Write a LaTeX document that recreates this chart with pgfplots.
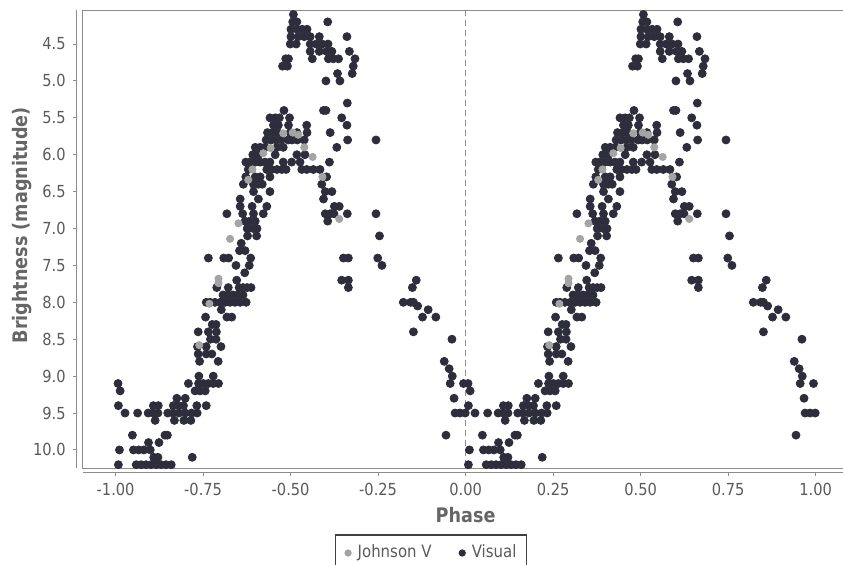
\documentclass[border=0pt]{standalone}
\usepackage{pgfplots}
\usepackage{pgfplotstable}
\pgfplotsset{compat=1.18}
\usepackage{fontspec}
\setmainfont{DejaVu Sans}[FakeStretch=0.88]
\definecolor{vis}{HTML}{2D2D3C}
\definecolor{jv}{HTML}{A4A4A4}
\definecolor{axgray}{HTML}{8C8C8C}
\definecolor{txtgray}{HTML}{5A5A5A}
\definecolor{lblgray}{HTML}{666666}

\pgfplotstableread{
p m
-0.492 4.1
-0.494 4.2
-0.482 4.2
-0.394 4.2
-0.499 4.3
-0.481 4.3
-0.467 4.3
-0.453 4.3
-0.499 4.4
-0.478 4.4
-0.461 4.4
-0.444 4.4
-0.418 4.4
-0.339 4.4
-0.501 4.5
-0.484 4.5
-0.444 4.5
-0.427 4.5
-0.410 4.5
-0.393 4.5
-0.444 4.6
-0.418 4.6
-0.397 4.6
-0.382 4.6
-0.332 4.6
-0.514 4.7
-0.506 4.7
-0.438 4.7
-0.392 4.7
-0.378 4.7
-0.363 4.7
-0.316 4.7
-0.523 4.8
-0.509 4.8
-0.321 4.8
-0.366 4.9
-0.324 4.9
-0.399 5.0
-0.359 5.0
-0.338 5.3
-0.519 5.4
-0.406 5.4
-0.399 5.4
-0.559 5.5
-0.544 5.5
-0.532 5.5
-0.503 5.5
-0.354 5.5
-0.549 5.6
-0.535 5.6
-0.506 5.6
-0.454 5.6
-0.339 5.6
-0.566 5.7
-0.551 5.7
-0.537 5.7
-0.501 5.7
-0.482 5.7
-0.453 5.7
-0.387 5.7
-0.570 5.8
-0.556 5.8
-0.541 5.8
-0.527 5.8
-0.507 5.8
-0.496 5.8
-0.481 5.8
-0.461 5.8
-0.337 5.8
-0.256 5.8
-0.601 5.9
-0.587 5.9
-0.573 5.9
-0.539 5.9
-0.521 5.9
-0.368 5.9
-0.608 6.0
-0.592 6.0
-0.544 6.0
-0.482 6.0
-0.459 6.0
-0.628 6.1
-0.616 6.1
-0.601 6.1
-0.587 6.1
-0.573 6.1
-0.559 6.1
-0.521 6.1
-0.497 6.1
-0.473 6.1
-0.389 6.1
-0.621 6.2
-0.568 6.2
-0.554 6.2
-0.539 6.2
-0.525 6.2
-0.513 6.2
-0.468 6.2
-0.454 6.2
-0.435 6.2
-0.416 6.2
-0.628 6.3
-0.601 6.3
-0.587 6.3
-0.559 6.3
-0.397 6.3
-0.635 6.4
-0.606 6.4
-0.592 6.4
-0.581 6.4
-0.411 6.4
-0.606 6.5
-0.559 6.5
-0.401 6.5
-0.382 6.5
-0.644 6.6
-0.592 6.6
-0.406 6.6
-0.644 6.7
-0.610 6.7
-0.568 6.7
-0.375 6.7
-0.361 6.7
-0.682 6.8
-0.637 6.8
-0.606 6.8
-0.578 6.8
-0.401 6.8
-0.387 6.8
-0.376 6.8
-0.338 6.8
-0.256 6.8
-0.630 6.9
-0.616 6.9
-0.601 6.9
-0.394 6.9
-0.624 7.0
-0.607 7.0
-0.596 7.0
-0.623 7.1
-0.597 7.1
-0.246 7.1
-0.641 7.2
-0.646 7.3
-0.630 7.3
-0.735 7.4
-0.691 7.4
-0.677 7.4
-0.614 7.4
-0.349 7.4
-0.335 7.4
-0.251 7.4
-0.656 7.5
-0.618 7.5
-0.239 7.5
-0.631 7.6
-0.654 7.7
-0.354 7.7
-0.335 7.7
-0.141 7.7
-0.711 7.8
-0.678 7.8
-0.647 7.8
-0.636 7.8
-0.624 7.8
-0.613 7.8
-0.335 7.8
-0.152 7.8
-0.693 7.9
-0.679 7.9
-0.664 7.9
-0.650 7.9
-0.636 7.9
-0.741 8.0
-0.730 8.0
-0.716 8.0
-0.701 8.0
-0.687 8.0
-0.673 8.0
-0.659 8.0
-0.644 8.0
-0.627 8.0
-0.178 8.0
-0.157 8.0
-0.149 8.0
-0.137 8.05
-0.698 8.1
-0.107 8.1
-0.743 8.2
-0.682 8.2
-0.668 8.2
-0.123 8.2
-0.085 8.2
-0.724 8.3
-0.713 8.3
-0.764 8.4
-0.735 8.4
-0.712 8.4
-0.149 8.4
-0.729 8.5
-0.713 8.5
-0.039 8.5
-0.766 8.6
-0.741 8.6
-0.699 8.6
-0.764 8.7
-0.741 8.7
-0.725 8.7
-0.760 8.8
-0.707 8.8
-0.061 8.8
-0.047 8.9
-0.762 9.0
-0.721 9.0
-0.038 9.0
-0.993 9.1
-0.792 9.1
-0.763 9.1
-0.749 9.1
-0.735 9.1
-0.721 9.1
-0.706 9.1
-0.044 9.1
-0.006 9.1
-0.987 9.2
-0.773 9.2
-0.759 9.2
-0.744 9.2
-0.825 9.3
-0.801 9.3
-0.033 9.3
-0.992 9.4
-0.892 9.4
-0.878 9.4
-0.835 9.4
-0.821 9.4
-0.806 9.4
-0.768 9.4
-0.741 9.4
-0.973 9.5
-0.937 9.5
-0.907 9.5
-0.893 9.5
-0.879 9.5
-0.851 9.5
-0.836 9.5
-0.819 9.5
-0.801 9.5
-0.783 9.5
-0.767 9.5
-0.030 9.5
-0.016 9.5
-0.001 9.5
-0.887 9.6
-0.832 9.6
-0.805 9.6
-0.785 9.6
-0.952 9.8
-0.859 9.8
-0.852 9.8
-0.056 9.8
-0.906 9.9
-0.876 9.9
-0.989 10.0
-0.949 10.0
-0.934 10.0
-0.919 10.0
-0.901 10.0
-0.891 10.1
-0.879 10.1
-0.781 10.1
-0.992 10.2
-0.941 10.2
-0.927 10.2
-0.913 10.2
-0.899 10.2
-0.884 10.2
-0.870 10.2
-0.856 10.2
-0.841 10.2
}\visual

\pgfplotstableread{
p m
-0.521 5.71
-0.494 5.70
-0.478 5.73
-0.557 5.91
-0.461 5.90
-0.578 5.98
-0.437 6.03
-0.609 6.20
-0.621 6.34
-0.409 6.30
-0.361 6.87
-0.649 6.93
-0.673 7.14
-0.706 7.68
-0.706 7.74
-0.732 8.02
-0.761 8.58
}\johnson

\begin{document}
\begin{tikzpicture}
\begin{axis}[
  at={(0,0)}, anchor=south west,
  scale only axis, width=382.9pt, height=229pt,
  xmin=-1.094, xmax=1.094, ymin=4.039, ymax=10.245, y dir=reverse,
  axis x line*=bottom, axis y line*=left,
  axis x line shift=2pt, axis y line shift=3pt,
  axis line style={axgray, line width=0.5pt},
  tick align=outside, major tick length=2pt,
  tick style={axgray, line width=0.5pt},
  xtick={-1,-0.75,-0.5,-0.25,0,0.25,0.5,0.75,1},
  xticklabels={-1.00,-0.75,-0.50,-0.25,0.00,0.25,0.50,0.75,1.00},
  ytick={4.5,5,5.5,6,6.5,7,7.5,8,8.5,9,9.5,10},
  yticklabels={4.5,5.0,5.5,6.0,6.5,7.0,7.5,8.0,8.5,9.0,9.5,10.0},
  ticklabel style={font=\fontsize{8.3}{10}\selectfont, text=txtgray},
  xlabel={\textbf{Phase}},
  ylabel={\textbf{Brightness (magnitude)}},
  label style={font=\fontsize{10}{12}\selectfont, text=lblgray},
  xlabel style={at={(axis description cs:0.5,-0.1026)}, anchor=center},
  ylabel style={at={(axis description cs:-0.0793,0.53)}, anchor=center, rotate=0},
  legend style={at={(axis description cs:0.4548,-0.145)}, anchor=north,
    draw=black!75, line width=0.6pt, inner xsep=3pt, inner ysep=3pt,
    font=\fontsize{8.5}{10}\selectfont, text=txtgray,
    /tikz/every even column/.append style={column sep=10pt}},
  legend columns=2,
  legend image code/.code={\path (0pt,0pt) (5.5pt,0pt);\draw[mark repeat=2,mark phase=2,#1] plot coordinates {(0pt,0pt) (3pt,0pt) (5pt,0pt)};},
  clip=false,
]
\draw[axgray, line width=0.5pt] (rel axis cs:0,0) rectangle (rel axis cs:1,1);
\addplot[forget plot, axgray, densely dashed, line width=0.4pt] coordinates {(0,4.039) (0,10.245)};
\addplot[forget plot, only marks, mark=*, mark size=2pt, color=vis] table[x=p, y=m] {\visual};
\addplot[forget plot, only marks, mark=*, mark size=2pt, color=vis] table[x expr=\thisrow{p}+1, y=m] {\visual};
\addplot[forget plot, only marks, mark=*, mark size=1.8pt, color=jv] table[x=p, y=m] {\johnson};
\addplot[forget plot, only marks, mark=*, mark size=1.8pt, color=jv] table[x expr=\thisrow{p}+1, y=m] {\johnson};
\addlegendimage{only marks, mark=*, mark size=1.5pt, color=jv}
\addlegendentry{Johnson V}
\addlegendimage{only marks, mark=*, mark size=1.5pt, color=vis}
\addlegendentry{Visual}
\end{axis}
\pgfresetboundingbox
\useasboundingbox (-41.35pt,-48pt) rectangle (380.15pt,234pt);
\end{tikzpicture}
\end{document}
